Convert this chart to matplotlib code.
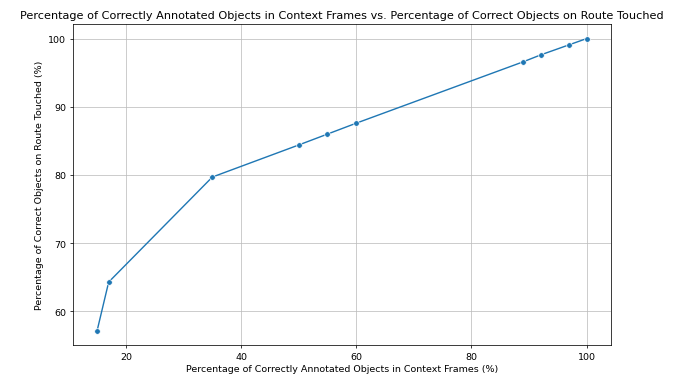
import matplotlib
matplotlib.use("Agg")
import matplotlib.pyplot as plt

# Data
context_pct = [15, 17, 35, 50, 55, 60, 89, 92, 97, 100]
route_pct = [57.2, 64.3, 79.7, 84.4, 86.0, 87.6, 96.6, 97.6, 99.1, 100.0]

fig = plt.figure(figsize=(10, 5.6), dpi=67.3)
ax = fig.add_axes([0.108, 0.082, 0.8, 0.852])

ax.plot(context_pct, route_pct, color="#1f77b4", linewidth=1.5,
        marker="o", markersize=6, markeredgecolor="white", markeredgewidth=0.75)

ax.set_title("Percentage of Correctly Annotated Objects in Context Frames vs. "
             "Percentage of Correct Objects on Route Touched", fontsize=12.1)
ax.set_xlabel("Percentage of Correctly Annotated Objects in Context Frames (%)",
              fontsize=10.15)
ax.set_ylabel("Percentage of Correct Objects on Route Touched (%)",
              fontsize=10.15)
ax.tick_params(labelsize=10.15)
ax.grid(True, color="#bdbdbd")

fig.savefig("out.png", dpi=67.3)
